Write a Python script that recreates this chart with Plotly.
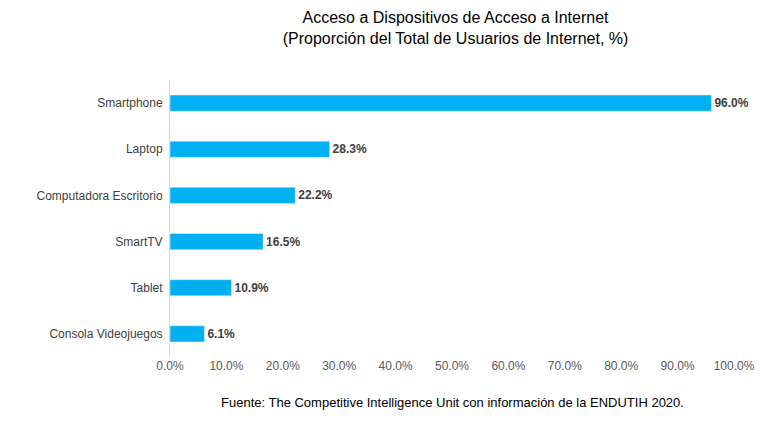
import plotly.graph_objects as go

categories = ["Smartphone", "Laptop", "Computadora Escritorio", "SmartTV", "Tablet", "Consola Videojuegos"]
values = [96.0, 28.3, 22.2, 16.5, 10.9, 6.1]
tick_vals = [0, 10, 20, 30, 40, 50, 60, 70, 80, 90, 100]
tick_text = [f"{v:.1f}%" for v in tick_vals]

font = "Liberation Sans, sans-serif"

fig = go.Figure(go.Bar(
    y=categories, x=values, orientation="h",
    marker_color="#00B0F0",
    text=[f"<b>{v:.1f}%</b>" for v in values], textposition="outside",
    textfont=dict(size=12, color="#404040"), cliponaxis=False,
))
fig.update_layout(
    width=765, height=421,
    margin=dict(l=162, r=39, t=72, b=72, autoexpand=False),
    paper_bgcolor="white", plot_bgcolor="white",
    font=dict(family=font, size=12, color="#404040"),
    bargap=0.65, showlegend=False,
    title=dict(text="Acceso a Dispositivos de Acceso a Internet<br>(Proporción del Total de Usuarios de Internet, %)",
               x=0.585, xanchor="center", y=0.965, yanchor="top",
               font=dict(size=16, color="black", family=font)),
    xaxis=dict(range=[0, 100], tickvals=tick_vals, ticktext=tick_text, showgrid=False,
               zeroline=False, showline=False, ticks="", tickfont=dict(size=12, color="#595959")),
    yaxis=dict(autorange="reversed", showgrid=False, ticks="", ticklabelstandoff=4,
               showline=True, linecolor="#d9d9d9", tickfont=dict(size=12, color="#404040")),
    annotations=[dict(text="Fuente: The Competitive Intelligence Unit con información de la ENDUTIH 2020.",
                      xref="paper", yref="paper", x=0.5, y=-0.13, xanchor="center", yanchor="top",
                      showarrow=False, font=dict(size=13, color="black", family=font))],
)
fig.write_html("out.html")
